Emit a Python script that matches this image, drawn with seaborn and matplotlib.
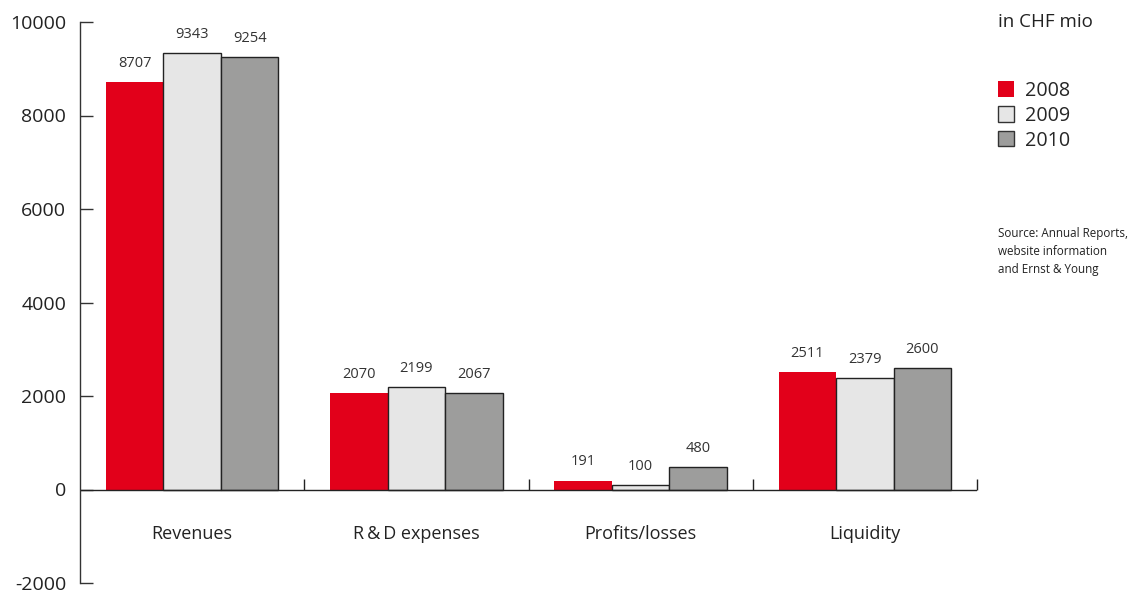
import pandas as pd
import numpy as np
import matplotlib.pyplot as plt
import seaborn as sns
from matplotlib.patches import Patch

categories = ["Revenues", "R\u2009&\u2009D expenses", "Profits/losses", "Liquidity"]
years = ["2008", "2009", "2010"]
values_2008 = [8707, 2070, 191, 2511]
values_2009 = [9343, 2199, 100, 2379]
values_2010 = [9254, 2067, 480, 2600]
y_ticks = [-2000, 0, 2000, 4000, 6000, 8000, 10000]

colors = ["#E2001A", "#E6E6E6", "#9D9D9C"]

df = pd.DataFrame({
    "category": categories * 3,
    "year": [y for y in years for _ in categories],
    "value": values_2008 + values_2009 + values_2010,
})

sns.set_style("white")
plt.rcParams["font.family"] = ["Open Sans", "DejaVu Sans"]

fig = plt.figure(figsize=(11.3, 5.94), dpi=100)
ax = fig.add_axes([80 / 1130, 11 / 594, 897 / 1130, 561 / 594])

sns.barplot(data=df, x="category", y="value", hue="year", palette=colors,
            width=0.77, saturation=1, legend=False, ax=ax)

# edges: red bars have none, grey ones get a thin dark outline
for i, cont in enumerate(ax.containers):
    for bar in cont:
        if i == 0:
            bar.set_edgecolor("none")
        else:
            bar.set_edgecolor("#222222")
            bar.set_linewidth(1)
    ax.bar_label(cont, labels=[f"{int(v)}" for v in cont.datavalues],
                 padding=8, fontsize=10.5, color="#333333")

ax.set_xlim(-0.5, 3.5)
ax.set_ylim(-2000, 10000)
ax.set_yticks(y_ticks)
ax.set_yticklabels([str(t) for t in y_ticks], fontsize=14, color="#222222")
ax.tick_params(axis="y", left=True, direction="in", length=9, width=1,
               color="#333333", pad=10)
ax.set_xticks([])
ax.set_xlabel("")
ax.set_ylabel("")

for s in ["top", "right", "bottom"]:
    ax.spines[s].set_visible(False)
ax.spines["left"].set_color("#333333")
ax.spines["left"].set_linewidth(1)

ax.axhline(0, color="#222222", lw=1)
ax.vlines([0.5, 1.5, 2.5, 3.5], 0, 230, color="#222222", lw=1, clip_on=False)

for i, name in enumerate(categories):
    ax.text(i, -950, name, ha="center", va="center", fontsize=13, color="#222222")

fig.text(998 / 1130, 1 - 22 / 594, "in CHF mio", fontsize=13.5, va="center", color="#222222")

handles = [Patch(facecolor=colors[0], edgecolor="none"),
           Patch(facecolor=colors[1], edgecolor="#333333"),
           Patch(facecolor=colors[2], edgecolor="#333333")]
fig.legend(handles, years, loc="upper left", bbox_to_anchor=(990 / 1130, 1 - 73 / 594),
           frameon=False, fontsize=14.2, handlelength=0.8, handleheight=0.8,
           handletextpad=0.55, labelspacing=0.25, borderaxespad=0)

fig.text(998 / 1130, 1 - 227 / 594,
         "Source: Annual Reports,\nwebsite information\nand Ernst & Young",
         fontsize=8.4, va="top", color="#222222", linespacing=1.5)

fig.savefig("out.png", dpi=100)
